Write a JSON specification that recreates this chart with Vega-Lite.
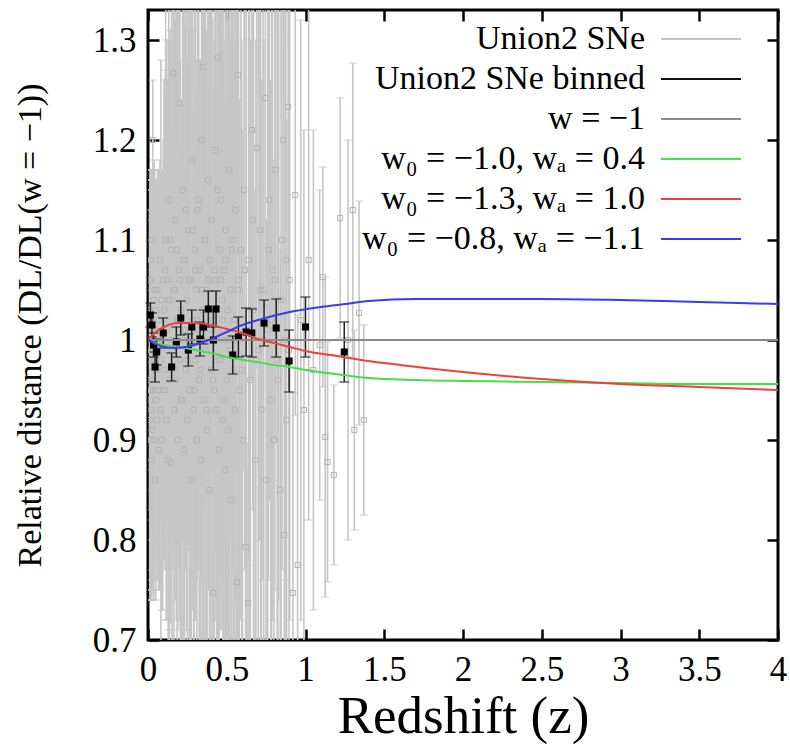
{
  "$schema": "https://vega.github.io/schema/vega-lite/v6.json",
  "width": 630,
  "height": 630,
  "autosize": {"type": "none"},
  "padding": {"left": 148, "top": 10, "right": 12, "bottom": 104},
  "background": "white",
  "config": {
    "view": {"stroke": "#000", "strokeWidth": 3},
    "font": "Liberation Serif, Times New Roman, DejaVu Serif, serif",
    "axis": {
      "domain": false, "grid": false, "ticks": true,
      "tickColor": "#000", "tickWidth": 2.5, "tickSize": -11,
      "labelFont": "Liberation Serif, Times New Roman, DejaVu Serif, serif", "labelFontSize": 35, "labelColor": "#000",
      "titleFont": "Liberation Serif, Times New Roman, DejaVu Serif, serif", "titleFontWeight": "normal", "titleColor": "#000",
      "labelOverlap": false, "labelFlush": false
    }
  },
  "datasets": {
    "sne": [
      {"z":0.010,"d":0.98,"e":0.15},{"z":0.011,"d":0.95,"e":0.20},{"z":0.012,"d":1.03,"e":0.12},{"z":0.013,"d":0.92,"e":0.18},
      {"z":0.014,"d":0.96,"e":0.21},{"z":0.015,"d":1.06,"e":0.10},{"z":0.016,"d":0.94,"e":0.14},{"z":0.017,"d":0.99,"e":0.17},
      {"z":0.018,"d":0.90,"e":0.15},{"z":0.019,"d":1.08,"e":0.09},{"z":0.020,"d":0.95,"e":0.21},{"z":0.021,"d":1.02,"e":0.14},
      {"z":0.022,"d":0.93,"e":0.19},{"z":0.023,"d":1.00,"e":0.13},{"z":0.024,"d":0.88,"e":0.12},{"z":0.025,"d":1.10,"e":0.07},
      {"z":0.026,"d":0.96,"e":0.19},{"z":0.027,"d":1.01,"e":0.16},{"z":0.028,"d":0.91,"e":0.16},{"z":0.030,"d":1.20,"e":0.06},
      {"z":0.031,"d":0.99,"e":0.11},{"z":0.033,"d":0.95,"e":0.21},{"z":0.035,"d":1.04,"e":0.13},{"z":0.037,"d":0.90,"e":0.16},
      {"z":0.039,"d":0.98,"e":0.20},{"z":0.041,"d":0.97,"e":0.12},{"z":0.043,"d":1.05,"e":0.12},{"z":0.045,"d":0.86,"e":0.10},
      {"z":0.047,"d":1.01,"e":0.15},{"z":0.050,"d":0.94,"e":0.20},{"z":0.052,"d":1.03,"e":0.13},{"z":0.055,"d":0.97,"e":0.19},
      {"z":0.058,"d":0.92,"e":0.16},{"z":0.061,"d":1.05,"e":0.12},{"z":0.064,"d":0.99,"e":0.18},{"z":0.067,"d":0.89,"e":0.14},
      {"z":0.070,"d":1.02,"e":0.15},{"z":0.073,"d":0.95,"e":0.20},{"z":0.076,"d":1.08,"e":0.10},{"z":0.079,"d":0.93,"e":0.18},
      {"z":0.082,"d":0.98,"e":0.30},{"z":0.085,"d":1.04,"e":0.13},{"z":0.088,"d":0.90,"e":0.17},{"z":0.091,"d":1.00,"e":0.16},
      {"z":0.094,"d":0.95,"e":0.22},{"z":0.097,"d":1.06,"e":0.14},{"z":0.100,"d":0.97,"e":0.19},
      {"z":0.104,"d":1.03,"e":0.22},{"z":0.108,"d":0.95,"e":0.18},{"z":0.112,"d":1.10,"e":0.25},{"z":0.116,"d":0.92,"e":0.20},
      {"z":0.120,"d":1.01,"e":0.29},{"z":0.124,"d":1.06,"e":0.17},{"z":0.128,"d":0.88,"e":0.21},{"z":0.132,"d":1.14,"e":0.19},
      {"z":0.136,"d":0.97,"e":0.33},{"z":0.140,"d":1.04,"e":0.23},{"z":0.145,"d":0.877,"e":0.16},{"z":0.150,"d":1.09,"e":0.28},
      {"z":0.155,"d":0.99,"e":0.22},{"z":0.160,"d":1.267,"e":0.12},{"z":0.165,"d":0.93,"e":0.26},{"z":0.170,"d":1.05,"e":0.31},
      {"z":0.175,"d":1.12,"e":0.20},{"z":0.180,"d":0.96,"e":0.24},{"z":0.185,"d":1.02,"e":0.35},{"z":0.190,"d":0.90,"e":0.19},
      {"z":0.195,"d":1.07,"e":0.27},{"z":0.200,"d":1.237,"e":0.14},{"z":0.205,"d":0.98,"e":0.30},{"z":0.210,"d":1.03,"e":0.21},
      {"z":0.215,"d":0.94,"e":0.25},{"z":0.220,"d":1.15,"e":0.23},{"z":0.225,"d":1.00,"e":0.38},{"z":0.230,"d":0.89,"e":0.22},
      {"z":0.235,"d":1.08,"e":0.26},{"z":0.240,"d":0.97,"e":0.20},{"z":0.245,"d":1.04,"e":0.33},{"z":0.250,"d":0.92,"e":0.28},
      {"z":0.255,"d":1.11,"e":0.24},{"z":0.260,"d":1.00,"e":0.21},{"z":0.265,"d":0.95,"e":0.36},{"z":0.270,"d":1.06,"e":0.25},
      {"z":0.275,"d":0.86,"e":0.18},{"z":0.280,"d":1.18,"e":0.22},{"z":0.285,"d":1.02,"e":0.29},{"z":0.290,"d":0.93,"e":0.23},
      {"z":0.295,"d":1.09,"e":0.31},{"z":0.300,"d":0.98,"e":0.26},{"z":0.305,"d":1.05,"e":0.20},{"z":0.310,"d":0.90,"e":0.30},
      {"z":0.315,"d":1.13,"e":0.27},{"z":0.320,"d":1.01,"e":0.24},{"z":0.325,"d":0.96,"e":0.32},{"z":0.330,"d":1.07,"e":0.21},
      {"z":0.335,"d":0.88,"e":0.25},{"z":0.340,"d":1.20,"e":0.18},{"z":0.345,"d":1.03,"e":0.34},{"z":0.350,"d":1.273,"e":0.15},
      {"z":0.355,"d":0.94,"e":0.27},{"z":0.360,"d":1.10,"e":0.23},{"z":0.365,"d":0.99,"e":0.37},{"z":0.370,"d":1.05,"e":0.26},
      {"z":0.375,"d":0.91,"e":0.22},{"z":0.380,"d":1.16,"e":0.29},{"z":0.385,"d":1.00,"e":0.25},{"z":0.390,"d":0.85,"e":0.20},
      {"z":0.395,"d":1.08,"e":0.33},{"z":0.400,"d":0.97,"e":0.28},{"z":0.405,"d":1.12,"e":0.24},{"z":0.410,"d":1.02,"e":0.30},
      {"z":0.415,"d":0.747,"e":0.15},{"z":0.420,"d":0.95,"e":0.35},{"z":0.425,"d":1.06,"e":0.27},{"z":0.430,"d":1.19,"e":0.21},
      {"z":0.435,"d":0.93,"e":0.26},{"z":0.440,"d":1.01,"e":0.40},{"z":0.445,"d":1.283,"e":0.16},{"z":0.450,"d":0.89,"e":0.24},
      {"z":0.455,"d":1.09,"e":0.30},{"z":0.460,"d":0.98,"e":0.27},{"z":0.465,"d":1.14,"e":0.25},{"z":0.470,"d":1.04,"e":0.33},
      {"z":0.475,"d":0.92,"e":0.29},{"z":0.480,"d":1.00,"e":0.36},{"z":0.485,"d":1.07,"e":0.23},{"z":0.490,"d":0.87,"e":0.27},
      {"z":0.495,"d":1.11,"e":0.31},{"z":0.500,"d":0.96,"e":0.28},
      {"z":0.505,"d":1.03,"e":0.34},{"z":0.510,"d":0.91,"e":0.26},{"z":0.515,"d":1.17,"e":0.29},{"z":0.520,"d":0.99,"e":0.38},
      {"z":0.525,"d":1.05,"e":0.25},{"z":0.530,"d":0.84,"e":0.22},{"z":0.535,"d":1.10,"e":0.33},{"z":0.540,"d":0.97,"e":0.30},
      {"z":0.545,"d":1.02,"e":0.41},{"z":0.550,"d":0.93,"e":0.27},{"z":0.555,"d":1.13,"e":0.26},{"z":0.560,"d":1.00,"e":0.35},
      {"z":0.565,"d":0.758,"e":0.17},{"z":0.570,"d":1.265,"e":0.18},{"z":0.575,"d":1.06,"e":0.32},{"z":0.580,"d":0.95,"e":0.29},
      {"z":0.590,"d":1.09,"e":0.37},{"z":0.600,"d":0.90,"e":0.31},{"z":0.610,"d":1.15,"e":0.28},{"z":0.620,"d":0.793,"e":0.20},
      {"z":0.625,"d":1.01,"e":0.39},{"z":0.635,"d":0.737,"e":0.16},{"z":0.640,"d":1.08,"e":0.30},{"z":0.650,"d":0.96,"e":0.34},
      {"z":0.660,"d":1.21,"e":0.25},{"z":0.670,"d":1.03,"e":0.36},{"z":0.680,"d":0.88,"e":0.27},{"z":0.690,"d":1.192,"e":0.22},
      {"z":0.700,"d":0.99,"e":0.40},{"z":0.710,"d":1.11,"e":0.31},{"z":0.720,"d":0.93,"e":0.33},{"z":0.730,"d":1.05,"e":0.29},
      {"z":0.745,"d":1.242,"e":0.21},{"z":0.750,"d":0.86,"e":0.26},{"z":0.760,"d":1.01,"e":0.37},{"z":0.770,"d":1.14,"e":0.30},
      {"z":0.780,"d":0.94,"e":0.32},{"z":0.790,"d":1.07,"e":0.35},{"z":0.800,"d":0.90,"e":0.28},{"z":0.810,"d":1.17,"e":0.27},
      {"z":0.820,"d":0.98,"e":0.41},{"z":0.830,"d":1.04,"e":0.30},{"z":0.840,"d":0.85,"e":0.24},{"z":0.850,"d":1.10,"e":0.33},
      {"z":0.860,"d":1.20,"e":0.20},{"z":0.865,"d":0.805,"e":0.22},{"z":0.870,"d":1.00,"e":0.38},{"z":0.880,"d":0.92,"e":0.30},
      {"z":0.890,"d":1.233,"e":0.24},{"z":0.900,"d":1.06,"e":0.34},
      {"z":0.920,"d":0.747,"e":0.20},{"z":0.935,"d":1.145,"e":0.22},{"z":0.950,"d":0.775,"e":0.25},{"z":0.970,"d":1.02,"e":0.30},
      {"z":0.990,"d":0.93,"e":0.28},{"z":1.020,"d":1.08,"e":0.26},{"z":1.050,"d":0.97,"e":0.24},{"z":1.090,"d":0.995,"e":0.155},
      {"z":1.110,"d":1.063,"e":0.11},{"z":1.125,"d":0.903,"e":0.16},{"z":1.140,"d":0.878,"e":0.12},{"z":1.180,"d":0.865,"e":0.09},
      {"z":1.220,"d":1.122,"e":0.12},{"z":1.270,"d":1.00,"e":0.20},{"z":1.300,"d":1.13,"e":0.147},{"z":1.310,"d":0.91,"e":0.10},
      {"z":1.340,"d":1.027,"e":0.112},{"z":1.370,"d":0.92,"e":0.095},
      {"z":0.102,"d":1.02,"e":0.24},{"z":0.110,"d":1.07,"e":0.20},{"z":0.118,"d":0.99,"e":0.27},{"z":0.126,"d":1.04,"e":0.22},
      {"z":0.134,"d":0.96,"e":0.25},{"z":0.142,"d":1.10,"e":0.21},{"z":0.152,"d":1.00,"e":0.30},{"z":0.162,"d":1.05,"e":0.26},
      {"z":0.172,"d":0.97,"e":0.23},{"z":0.182,"d":1.09,"e":0.29},{"z":0.192,"d":1.02,"e":0.25},{"z":0.202,"d":1.06,"e":0.34},
      {"z":0.212,"d":0.94,"e":0.24},{"z":0.222,"d":1.08,"e":0.28},{"z":0.232,"d":1.01,"e":0.31},{"z":0.242,"d":1.13,"e":0.22},
      {"z":0.252,"d":0.98,"e":0.30},{"z":0.262,"d":1.06,"e":0.27},{"z":0.272,"d":1.00,"e":0.33},{"z":0.282,"d":1.11,"e":0.25},
      {"z":0.292,"d":0.95,"e":0.28},{"z":0.302,"d":1.07,"e":0.32},{"z":0.312,"d":1.02,"e":0.26},{"z":0.322,"d":1.14,"e":0.24},
      {"z":0.332,"d":0.97,"e":0.31},{"z":0.342,"d":1.05,"e":0.29},{"z":0.352,"d":1.00,"e":0.35},{"z":0.362,"d":1.10,"e":0.27},
      {"z":0.372,"d":0.93,"e":0.26},{"z":0.382,"d":1.06,"e":0.30},{"z":0.392,"d":1.01,"e":0.34},{"z":0.402,"d":1.12,"e":0.25},
      {"z":0.412,"d":0.96,"e":0.29},{"z":0.422,"d":1.07,"e":0.32},{"z":0.432,"d":1.00,"e":0.28},{"z":0.442,"d":1.15,"e":0.26},
      {"z":0.452,"d":0.98,"e":0.33},{"z":0.462,"d":1.06,"e":0.30},{"z":0.472,"d":1.02,"e":0.27},{"z":0.482,"d":0.94,"e":0.31},
      {"z":0.492,"d":1.08,"e":0.34},{"z":0.512,"d":1.00,"e":0.32},{"z":0.532,"d":1.09,"e":0.30},{"z":0.552,"d":1.02,"e":0.28},
      {"z":0.572,"d":1.05,"e":0.36},{"z":0.595,"d":0.97,"e":0.33},{"z":0.615,"d":1.07,"e":0.30},{"z":0.645,"d":1.01,"e":0.37},
      {"z":0.665,"d":1.12,"e":0.29},{"z":0.685,"d":0.98,"e":0.32},{"z":0.715,"d":1.05,"e":0.35},{"z":0.735,"d":1.00,"e":0.30},
      {"z":0.765,"d":1.09,"e":0.33},{"z":0.785,"d":1.02,"e":0.36},{"z":0.805,"d":1.06,"e":0.31},{"z":0.825,"d":0.96,"e":0.34},
      {"z":0.845,"d":1.04,"e":0.38},{"z":0.875,"d":1.08,"e":0.32},{"z":0.895,"d":0.99,"e":0.35}
    ],
    "bins": [
      {"z":0.015,"d":1.025,"e":0.012},{"z":0.025,"d":1.015,"e":0.012},{"z":0.035,"d":0.995,"e":0.012},
      {"z":0.045,"d":0.973,"e":0.015},{"z":0.055,"d":0.988,"e":0.013},{"z":0.097,"d":1.007,"e":0.015},
      {"z":0.150,"d":0.973,"e":0.014},{"z":0.180,"d":0.998,"e":0.015},{"z":0.208,"d":1.022,"e":0.017},
      {"z":0.256,"d":0.990,"e":0.016},{"z":0.278,"d":1.013,"e":0.017},{"z":0.330,"d":1.001,"e":0.017},
      {"z":0.352,"d":1.013,"e":0.017},{"z":0.383,"d":1.031,"e":0.018},{"z":0.415,"d":1.000,"e":0.030},
      {"z":0.432,"d":1.031,"e":0.018},{"z":0.538,"d":0.985,"e":0.019},{"z":0.574,"d":1.003,"e":0.020},
      {"z":0.623,"d":1.008,"e":0.024},{"z":0.659,"d":1.007,"e":0.024},{"z":0.737,"d":1.017,"e":0.023},
      {"z":0.814,"d":1.012,"e":0.029},{"z":0.896,"d":0.979,"e":0.031},{"z":1.000,"d":1.013,"e":0.030},
      {"z":1.246,"d":0.988,"e":0.030}
    ],
    "curves": [
      {"s":"w = −1","z":0,"d":1},{"s":"w = −1","z":4,"d":1},
      {"s":"w₀ = −1.0, wₐ = 0.4","z":0,"d":1.0},{"s":"w₀ = −1.0, wₐ = 0.4","z":0.05,"d":0.997},
      {"s":"w₀ = −1.0, wₐ = 0.4","z":0.1,"d":0.995},{"s":"w₀ = −1.0, wₐ = 0.4","z":0.2,"d":0.993},
      {"s":"w₀ = −1.0, wₐ = 0.4","z":0.3,"d":0.99},{"s":"w₀ = −1.0, wₐ = 0.4","z":0.4,"d":0.987},
      {"s":"w₀ = −1.0, wₐ = 0.4","z":0.5,"d":0.983},{"s":"w₀ = −1.0, wₐ = 0.4","z":0.65,"d":0.979},
      {"s":"w₀ = −1.0, wₐ = 0.4","z":0.8,"d":0.975},{"s":"w₀ = −1.0, wₐ = 0.4","z":0.9,"d":0.973},
      {"s":"w₀ = −1.0, wₐ = 0.4","z":1.0,"d":0.970},{"s":"w₀ = −1.0, wₐ = 0.4","z":1.24,"d":0.965},
      {"s":"w₀ = −1.0, wₐ = 0.4","z":1.4,"d":0.962},{"s":"w₀ = −1.0, wₐ = 0.4","z":1.7,"d":0.960},
      {"s":"w₀ = −1.0, wₐ = 0.4","z":2.0,"d":0.959},{"s":"w₀ = −1.0, wₐ = 0.4","z":2.5,"d":0.958},
      {"s":"w₀ = −1.0, wₐ = 0.4","z":3.0,"d":0.957},{"s":"w₀ = −1.0, wₐ = 0.4","z":3.5,"d":0.956},
      {"s":"w₀ = −1.0, wₐ = 0.4","z":4.0,"d":0.956},
      {"s":"w₀ = −1.3, wₐ = 1.0","z":0,"d":1.0},{"s":"w₀ = −1.3, wₐ = 1.0","z":0.05,"d":1.008},
      {"s":"w₀ = −1.3, wₐ = 1.0","z":0.1,"d":1.013},{"s":"w₀ = −1.3, wₐ = 1.0","z":0.2,"d":1.017},
      {"s":"w₀ = −1.3, wₐ = 1.0","z":0.3,"d":1.017},{"s":"w₀ = −1.3, wₐ = 1.0","z":0.4,"d":1.015},
      {"s":"w₀ = −1.3, wₐ = 1.0","z":0.5,"d":1.011},{"s":"w₀ = −1.3, wₐ = 1.0","z":0.6,"d":1.007},
      {"s":"w₀ = −1.3, wₐ = 1.0","z":0.7,"d":1.001},{"s":"w₀ = −1.3, wₐ = 1.0","z":0.8,"d":0.997},
      {"s":"w₀ = −1.3, wₐ = 1.0","z":0.9,"d":0.993},{"s":"w₀ = −1.3, wₐ = 1.0","z":1.0,"d":0.989},
      {"s":"w₀ = −1.3, wₐ = 1.0","z":1.2,"d":0.984},{"s":"w₀ = −1.3, wₐ = 1.0","z":1.4,"d":0.979},
      {"s":"w₀ = −1.3, wₐ = 1.0","z":1.6,"d":0.975},{"s":"w₀ = −1.3, wₐ = 1.0","z":2.0,"d":0.968},
      {"s":"w₀ = −1.3, wₐ = 1.0","z":2.5,"d":0.961},{"s":"w₀ = −1.3, wₐ = 1.0","z":3.0,"d":0.956},
      {"s":"w₀ = −1.3, wₐ = 1.0","z":3.5,"d":0.953},{"s":"w₀ = −1.3, wₐ = 1.0","z":4.0,"d":0.950},
      {"s":"w₀ = −0.8, wₐ = −1.1","z":0,"d":1.0},{"s":"w₀ = −0.8, wₐ = −1.1","z":0.05,"d":0.996},
      {"s":"w₀ = −0.8, wₐ = −1.1","z":0.1,"d":0.993},{"s":"w₀ = −0.8, wₐ = −1.1","z":0.17,"d":0.992},
      {"s":"w₀ = −0.8, wₐ = −1.1","z":0.27,"d":0.994},{"s":"w₀ = −0.8, wₐ = −1.1","z":0.37,"d":0.999},
      {"s":"w₀ = −0.8, wₐ = −1.1","z":0.5,"d":1.008},{"s":"w₀ = −0.8, wₐ = −1.1","z":0.6,"d":1.015},
      {"s":"w₀ = −0.8, wₐ = −1.1","z":0.7,"d":1.020},{"s":"w₀ = −0.8, wₐ = −1.1","z":0.9,"d":1.028},
      {"s":"w₀ = −0.8, wₐ = −1.1","z":1.1,"d":1.033},{"s":"w₀ = −0.8, wₐ = −1.1","z":1.25,"d":1.036},
      {"s":"w₀ = −0.8, wₐ = −1.1","z":1.4,"d":1.039},{"s":"w₀ = −0.8, wₐ = −1.1","z":1.7,"d":1.041},
      {"s":"w₀ = −0.8, wₐ = −1.1","z":2.0,"d":1.041},{"s":"w₀ = −0.8, wₐ = −1.1","z":2.5,"d":1.041},
      {"s":"w₀ = −0.8, wₐ = −1.1","z":3.0,"d":1.040},{"s":"w₀ = −0.8, wₐ = −1.1","z":3.5,"d":1.038},
      {"s":"w₀ = −0.8, wₐ = −1.1","z":4.0,"d":1.036}
    ]
  },
  "layer": [
    {
      "data": {"name": "sne"},
      "mark": {"type": "errorbar", "color": "#c6c6c6", "thickness": 1.6, "clip": true, "ticks": {"size": 8, "thickness": 1.2}},
      "encoding": {
        "x": {"field": "z", "type": "quantitative", "scale": {"domain": [0, 4], "nice": false, "zero": false},
              "axis": {"values": [0, 0.5, 1, 1.5, 2, 2.5, 3, 3.5, 4], "format": "~g", "title": "Redshift (z)",
                       "titleFontSize": 53, "labelPadding": 23, "titlePadding": 3}},
        "y": {"field": "d", "type": "quantitative", "scale": {"domain": [0.7, 1.33], "nice": false, "zero": false},
              "axis": {"values": [0.7, 0.8, 0.9, 1, 1.1, 1.2, 1.3], "format": "~g", "title": "Relative distance  (DL/DL(w = −1))",
                       "titleFontSize": 34, "labelPadding": 23, "titlePadding": 45}},
        "yError": {"field": "e"}
      }
    },
    {
      "data": {"name": "sne"},
      "mark": {"type": "square", "size": 26, "filled": false, "color": "#b4b4b4", "strokeWidth": 1, "clip": true, "opacity": 1},
      "encoding": {
        "x": {"field": "z", "type": "quantitative", "axis": null},
        "y": {"field": "d", "type": "quantitative", "axis": null}
      }
    },
    {
      "data": {"name": "bins"},
      "mark": {"type": "errorbar", "color": "#222", "thickness": 1.5, "ticks": {"size": 10, "thickness": 1.5}},
      "encoding": {
        "x": {"field": "z", "type": "quantitative", "axis": null},
        "y": {"field": "d", "type": "quantitative", "axis": null},
        "yError": {"field": "e"}
      }
    },
    {
      "data": {"name": "bins"},
      "mark": {"type": "square", "size": 50, "filled": true, "color": "#000", "opacity": 1},
      "encoding": {
        "x": {"field": "z", "type": "quantitative", "axis": null},
        "y": {"field": "d", "type": "quantitative", "axis": null}
      }
    },
    {
      "data": {"name": "curves"},
      "mark": {"type": "line", "strokeWidth": 2, "clip": true, "interpolate": "monotone"},
      "encoding": {
        "x": {"field": "z", "type": "quantitative", "axis": null},
        "y": {"field": "d", "type": "quantitative", "axis": null},
        "color": {
          "field": "s", "type": "nominal",
          "scale": {
            "domain": ["Union2 SNe", "Union2 SNe binned", "w = −1", "w₀ = −1.0, wₐ = 0.4", "w₀ = −1.3, wₐ = 1.0", "w₀ = −0.8, wₐ = −1.1"],
            "range": ["#c4c4c4", "#111111", "#8a8a8a", "#44e044", "#ee4040", "#3c3cee"]
          },
          "legend": {
            "orient": "none", "legendX": 536, "legendY": 12, "title": null,
            "symbolType": "M-4,0H4", "symbolSize": 400, "symbolStrokeWidth": 2,
            "rowPadding": 6, "labelAlign": "right", "labelOffset": -73,
            "labelFont": "Liberation Serif, Times New Roman, DejaVu Serif, serif", "labelFontSize": 34, "labelColor": "#000", "labelLimit": 500,
            "padding": 0
          }
        }
      }
    },
    {
      "data": {"name": "curves"},
      "mark": {"type": "point", "opacity": 0},
      "encoding": {
        "x": {"field": "z", "type": "quantitative",
              "axis": {"orient": "top", "labels": false, "title": null, "values": [0, 0.5, 1, 1.5, 2, 2.5, 3, 3.5, 4]}},
        "y": {"field": "d", "type": "quantitative",
              "axis": {"orient": "right", "labels": false, "title": null, "values": [0.7, 0.8, 0.9, 1, 1.1, 1.2, 1.3]}}
      }
    }
  ],
  "resolve": {"axis": {"x": "independent", "y": "independent"}}
}
